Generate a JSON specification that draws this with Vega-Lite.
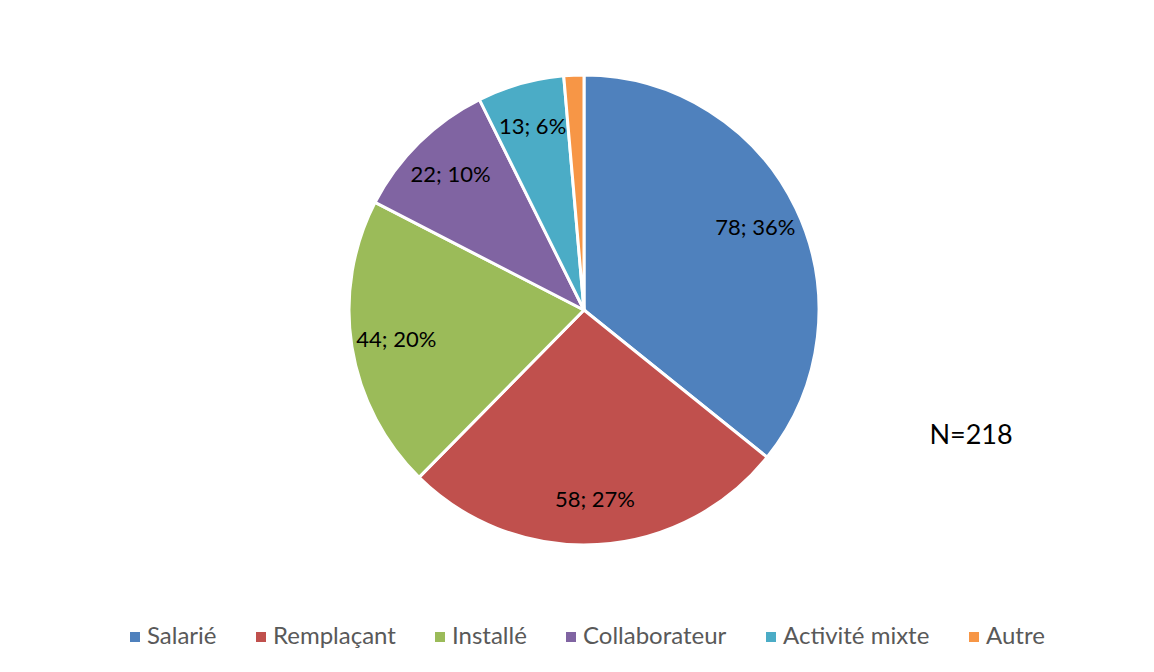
{
  "$schema": "https://vega.github.io/schema/vega-lite/v6.json",
  "width": 1154,
  "height": 608,
  "autosize": "none",
  "padding": {"left": 7, "top": 6, "right": 0, "bottom": 58},
  "background": "white",
  "config": {"view": {"stroke": null}},
  "data": {"values": [
    {"cat": "Salarié", "n": 78, "i": 1, "label": "78; 36%"},
    {"cat": "Remplaçant", "n": 58, "i": 2, "label": "58; 27%"},
    {"cat": "Installé", "n": 44, "i": 3, "label": "44; 20%"},
    {"cat": "Collaborateur", "n": 22, "i": 4, "label": "22; 10%"},
    {"cat": "Activité mixte", "n": 13, "i": 5, "label": "13; 6%"},
    {"cat": "Autre", "n": 3, "i": 6, "label": ""}
  ]},
  "layer": [
    {
      "mark": {"type": "arc", "outerRadius": 235, "stroke": "white", "strokeWidth": 3},
      "encoding": {
        "theta": {"field": "n", "type": "quantitative", "stack": true},
        "order": {"field": "i", "type": "quantitative"},
        "color": {
          "field": "cat", "type": "nominal",
          "scale": {
            "domain": ["Salarié", "Remplaçant", "Installé", "Collaborateur", "Activité mixte", "Autre"],
            "range": ["#4F81BD", "#C0504D", "#9BBB59", "#8064A2", "#4BACC6", "#F79646"]
          },
          "legend": {
            "orient": "none", "legendX": 116, "legendY": 619,
            "direction": "horizontal", "title": null,
            "symbolType": "square", "symbolSize": 100, "symbolStrokeWidth": 0,
            "labelFont": "Lato", "labelFontSize": 24, "labelColor": "#595959",
            "labelOffset": 0, "columnPadding": 32
          }
        }
      }
    },
    {
      "mark": {"type": "text", "radius": 190, "font": "Lato", "fontSize": 22, "color": "black"},
      "encoding": {
        "theta": {"field": "n", "type": "quantitative", "stack": true},
        "order": {"field": "i", "type": "quantitative"},
        "text": {"field": "label", "type": "nominal"}
      }
    },
    {
      "data": {"values": [{"t": "N=218"}]},
      "mark": {"type": "text", "x": 964, "y": 430, "font": "Lato", "fontSize": 27, "color": "black"},
      "encoding": {"text": {"field": "t", "type": "nominal"}}
    }
  ]
}
